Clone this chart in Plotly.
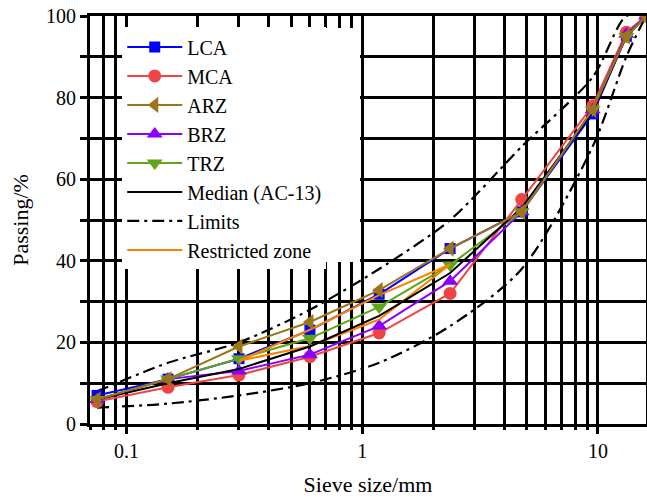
import plotly.graph_objects as go
import math

sieve = [0.075, 0.15, 0.3, 0.6, 1.18, 2.36, 4.75, 9.5, 13.2, 16]
lca = [7, 11, 16, 23, 31.8, 43, 52, 76, 95, 100]
mca = [5.5, 9, 12, 16.5, 22.3, 32, 55, 78, 96, 100]
arz = [6, 11, 19, 25, 32.8, 43, 52, 77, 95, 100]
brz = [6, 11, 13, 17, 24, 35, 52, 77, 95.5, 100]
trz = [6, 11, 16, 21, 28.7, 39, 52, 77, 95, 100]
median = [6, 10, 13.5, 19, 26.5, 37, 53, 76.5, 95, 100]
upper = [8, 15, 20, 28, 38, 50, 68, 85, 100, 100]
lower = [4, 5, 7, 10, 15, 24, 38, 68, 90, 100]
rz_x = [0.3, 0.6, 1.18, 2.36, 1.18, 0.6, 0.3]
rz_y = [15.5, 23.1, 31.6, 39.1, 25.6, 19.1, 15.5]

major_x = [0.1, 1, 10]
minor_x = [0.07, 0.08, 0.09, 0.2, 0.3, 0.4, 0.5, 0.6, 0.7, 0.8, 0.9,
           2, 3, 4, 5, 6, 7, 8, 9]
x_labels = ["0.1", "1", "10"]

FONT = "Liberation Serif"
xr = [math.log10(0.07), math.log10(16)]

fig = go.Figure()

dash = "12px,5px,3px,5px"
fig.add_trace(go.Scatter(x=sieve, y=upper, mode="lines", name="Limits",
                         line=dict(color="black", width=2.2, dash=dash, shape="spline", smoothing=0.8),
                         legendgroup="lim", legendrank=7))
fig.add_trace(go.Scatter(x=sieve, y=lower, mode="lines", name="Limits", showlegend=False,
                         line=dict(color="black", width=2.2, dash=dash, shape="spline", smoothing=0.8),
                         legendgroup="lim"))

def series(name, y, color, symbol, size, rank):
    fig.add_trace(go.Scatter(x=sieve, y=y, mode="lines+markers", name=name,
                             line=dict(color=color, width=2),
                             marker=dict(symbol=symbol, size=size, color=color,
                                         line=dict(width=0)),
                             legendrank=rank))

series("LCA", lca, "#0000FF", "square", 11, 1)
series("MCA", mca, "#F04545", "circle", 13, 2)
series("BRZ", brz, "#8A00FF", "triangle-up", 14, 4)
series("TRZ", trz, "#62A418", "triangle-down", 14, 5)

fig.add_trace(go.Scatter(x=rz_x, y=rz_y, mode="lines", name="Restricted zone",
                         line=dict(color="#FF8000", width=2), legendrank=8))
fig.add_trace(go.Scatter(x=sieve, y=median, mode="lines", name="Median (AC-13)",
                         line=dict(color="black", width=2), legendrank=6))
series("ARZ", arz, "#9E7418", "triangle-left", 14, 3)

# dummy trace for top axis
fig.add_trace(go.Scatter(x=[1], y=[50], xaxis="x2", mode="markers",
                         marker=dict(opacity=0), showlegend=False, hoverinfo="skip"))

# white backdrop extending the legend box (decoration)
fig.add_shape(type="rect", xref="paper", yref="paper", x0=0.058, x1=0.4856,
              y0=0.397, y1=0.9706, fillcolor="white", line=dict(width=0), layer="above")

fig.update_layout(
    width=647, height=498,
    margin=dict(l=90, r=1, t=16, b=74),
    paper_bgcolor="white", plot_bgcolor="white",
    font=dict(family=FONT, size=20, color="black"),
    showlegend=True,
    legend=dict(x=0.058, y=0.972, xanchor="left", yanchor="top",
                bgcolor="white", borderwidth=0, font=dict(family=FONT, size=20),
                itemwidth=55, tracegroupgap=0),
    xaxis=dict(type="log", range=xr, showline=True, linecolor="black", linewidth=3,
               mirror=True, tickvals=major_x, ticktext=x_labels, automargin=False,
               ticks="outside", ticklen=7, tickwidth=3, tickcolor="black",
               showgrid=True, gridcolor="black", gridwidth=3, zeroline=False,
               tickfont=dict(family=FONT, size=20),
               minor=dict(tickvals=minor_x, ticks="outside", ticklen=3, tickwidth=3,
                          tickcolor="black", showgrid=True, gridcolor="black", gridwidth=3),
               title=dict(text="Sieve size/mm", font=dict(family=FONT, size=22), standoff=16)),
    xaxis2=dict(type="log", range=xr, overlaying="x", side="top", showline=False,
                tickvals=major_x + minor_x, ticks="inside", ticklen=12, tickwidth=3,
                automargin=False,
                tickcolor="black", showticklabels=False, showgrid=False, zeroline=False),
    yaxis=dict(range=[0, 100], showline=True, linecolor="black", linewidth=3, mirror=True,
               tickvals=[0, 20, 40, 60, 80, 100], ticks="outside", ticklen=7, tickwidth=3,
               tickcolor="black", showgrid=True, gridcolor="black", gridwidth=3,
               automargin=False,
               zeroline=False, tickfont=dict(family=FONT, size=20),
               minor=dict(tickvals=[10, 30, 50, 70, 90], ticks="outside", ticklen=7,
                          tickwidth=3, tickcolor="black", showgrid=True,
                          gridcolor="black", gridwidth=3),
               title=dict(text="Passing/%", font=dict(family=FONT, size=22), standoff=12)),
)

fig.write_html("out.html", config={"displayModeBar": False},
               post_script="document.body.style.margin='0px';")
